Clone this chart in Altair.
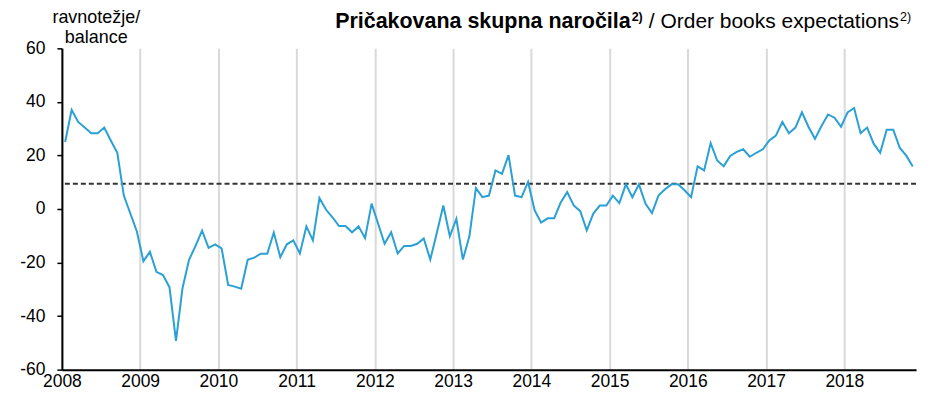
import altair as alt
import pandas as pd

# Monthly balance, Jan 2008 - Nov 2018
values = [
    25, 37, 32.5, 30.4, 28.3, 28.3, 30.4, 25.6, 21, 5, -1.7, -8.4,
    -19.5, -16, -23.5, -24.7, -29.2, -49.3, -29.6, -19, -13.8, -8.1, -14.5, -13.2,
    -14.7, -28.4, -29, -29.8, -19, -18.2, -16.7, -16.7, -8.8, -18, -13.2, -11.7,
    -16.6, -6.5, -11.7, 4.1, -0.2, -3.1, -6.4, -6.4, -8.7, -6.5, -10.9, 2,
    -5.5, -13, -8.7, -16.6, -13.8, -13.8, -13, -11, -18.9, -9, 1.3, -10.2,
    -3.7, -18.9, -10.2, 7.8, 4.4, 5, 14.4, 13.1, 20.1, 5, 4.4, 10.1,
    -0.5, -5.1, -3.5, -3.5, 2.4, 6.3, 1.3, -0.8, -8, -1.7, 1.3, 1.3,
    5, 2.2, 9.2, 4.4, 9.2, 2, -1.5, 5, 7.4, 9.2, 9.2, 7,
    4.4, 15.9, 14.4, 24.6, 18.1, 16, 19.8, 21.3, 22.3, 19.5, 21, 22.3,
    25.6, 27.4, 32.5, 28.3, 30.4, 36.1, 30.7, 26.2, 31, 35.3, 34.1, 30.7,
    36.1, 37.7, 28.3, 30.4, 24.4, 21, 29.6, 29.6, 22.9, 19.9, 15.9,
]
years = list(range(2008, 2019))
y_ticks = [-60, -40, -20, 0, 20, 40, 60]
average = [9.4]

title_bold = "Pričakovana skupna naročila"
title_normal = "/ Order books expectations"
footnote = "2)"
y_title = ["ravnotežje/", "balance"]

FONT = "Liberation Sans"
W, H = 856, 322

month_pos = [i + 0.5 for i in range(len(values))]
df = pd.DataFrame({"m": month_pos, "v": values})

x_scale = alt.Scale(domain=[0, len(values)], nice=False, zero=False)
y_scale = alt.Scale(domain=[-60, 60], nice=False)

x_axis = alt.Axis(
    values=[(y - years[0]) * 12 for y in years],
    labelExpr="'' + (2008 + datum.value / 12)",
    grid=True, gridColor="#d9d9d9", gridWidth=2,
    domainColor="black", domainWidth=2, ticks=False,
    labelFont=FONT, labelFontSize=17.5, labelColor="black", labelPadding=3,
    labelFlush=False, title=None,
)
y_axis = alt.Axis(
    values=y_ticks, labelExpr="'' + datum.value",
    grid=False, domainColor="black", domainWidth=2,
    ticks=True, tickSize=5, tickColor="black", tickWidth=1.5,
    labelFont=FONT, labelFontSize=17.5, labelColor="black", labelPadding=12,
    title=y_title, titleAngle=0, titleAlign="center", titleBaseline="alphabetic",
    titleX=34, titleY=-26, titleFont=FONT, titleFontSize=18, titleFontWeight="normal",
    titleLineHeight=20, titleColor="black",
)

line = alt.Chart(df).mark_line(color="#2aa0d4", strokeWidth=2).encode(
    x=alt.X("m:Q", scale=x_scale, axis=x_axis),
    y=alt.Y("v:Q", scale=y_scale, axis=y_axis),
)

rule = alt.Chart(pd.DataFrame({"a": average})).mark_rule(
    color="#333333", strokeWidth=2, strokeDash=[5, 3]
).encode(y=alt.Y("a:Q", scale=y_scale))

def text_mark(txt, x, y, size, weight, align):
    return alt.Chart(pd.DataFrame({"t": [txt]})).mark_text(
        font=FONT, fontSize=size, fontWeight=weight, align=align,
        baseline="alphabetic", color="black",
    ).encode(x=alt.value(x), y=alt.value(y), text="t:N")

t1 = text_mark(title_bold, 570, -20, 21.5, "bold", "right")
t2 = text_mark(footnote, 571, -27, 12.5, "bold", "left")
t3 = text_mark(title_normal, 839, -20, 21, "normal", "right")
t4 = text_mark(footnote, 840, -27, 12.5, "normal", "left")

chart = alt.layer(rule, line, t1, t2, t3, t4).properties(
    width=W, height=H,
    autosize=alt.AutoSizeParams(type="none"),
    padding={"left": 54, "top": 40, "right": 15, "bottom": 23},
).configure_view(stroke=None)

chart.save("out.html", embed_options={"renderer": "svg", "actions": False})
